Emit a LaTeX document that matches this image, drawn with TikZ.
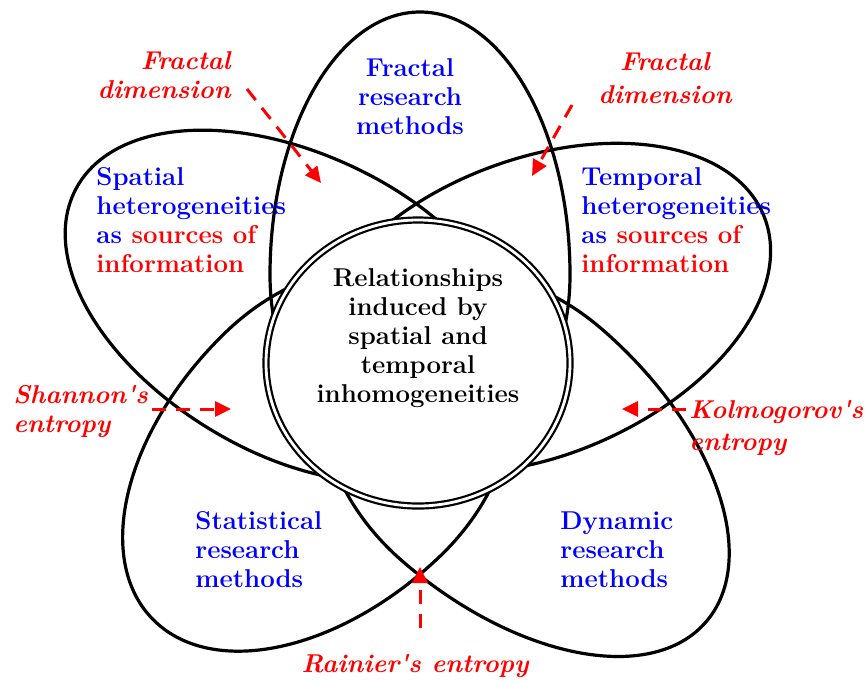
\documentclass[tikz,border=0pt]{standalone}
\usepackage{amsmath}
\usetikzlibrary{arrows.meta,shapes.geometric}
\tikzset{
  petal/.style={line width=1.6pt,line join=round},
  hub/.style={ellipse,draw,double,double distance=1.4pt,line width=1.1pt,fill=white,
    minimum width=152pt,minimum height=143pt,inner sep=0pt},
  topic/.style={text=blue,inner sep=0pt,font=\fontsize{12.9}{14.5}\selectfont\bfseries},
  core/.style={text=black,align=center,inner sep=0pt,font=\fontsize{12.9}{14.5}\selectfont\bfseries},
  measure/.style={text=red,inner sep=0pt,font=\fontsize{12.9}{14.5}\selectfont\bfseries\itshape},
  pointer/.style={red,line width=1.5pt,dash pattern=on 7pt off 5pt,-{Triangle[length=8pt,width=7.5pt]}}
}

\begin{document}
\begin{tikzpicture}[x=0.5pt,y=-0.5pt]
    \useasboundingbox (0,0) rectangle (865,682);

    % — Petals: outer half ellipse + shorter inner half (hidden by the hub)
    \draw[petal] (270,275) arc[start angle=180,end angle=360,x radius=150,y radius=263]
                           arc[start angle=0,end angle=180,x radius=150,y radius=195] -- cycle;
    \begin{scope}[shift={(302,309)},rotate=-28]
      \draw[petal] (0,-150) arc[start angle=270,end angle=90,x radius=256,y radius=150]
                            arc[start angle=90,end angle=-90,x radius=240,y radius=150] -- cycle;
    \end{scope}
    \begin{scope}[shift={(534,309)},rotate=22]
      \draw[petal] (0,-148) arc[start angle=-90,end angle=90,x radius=248,y radius=148]
                            arc[start angle=90,end angle=270,x radius=240,y radius=148] -- cycle;
    \end{scope}
    \begin{scope}[shift={(333.5,443.6)},rotate=224]
      \draw[petal] (0,-155) arc[start angle=-90,end angle=90,x radius=252,y radius=155]
                            arc[start angle=90,end angle=270,x radius=200,y radius=155] -- cycle;
    \end{scope}
    \begin{scope}[shift={(502,445)},rotate=-41]
      \draw[petal] (0,-153) arc[start angle=-90,end angle=90,x radius=270,y radius=153]
                            arc[start angle=90,end angle=270,x radius=200,y radius=153] -- cycle;
    \end{scope}

    % — Central hub
    \node[hub] (hub) at (418,363) {};
    \node[core] (relations) at (418,338) {Relationships\\induced by\\spatial and\\temporal\\inhomogeneities};

    % — Petal titles
    \node[topic,align=center] (fractal) at (410,97) {Fractal\\research\\methods};
    \node[topic,align=left,anchor=west] (spatial) at (96,220)
      {Spatial\\heterogeneities\\as \textcolor{red}{sources of}\\\textcolor{red}{information}};
    \node[topic,align=left,anchor=west] (temporal) at (581,220)
      {Temporal\\heterogeneities\\as \textcolor{red}{sources of}\\\textcolor{red}{information}};
    \node[topic,align=left,anchor=west] (statistical) at (195,550) {Statistical\\research\\methods};
    \node[topic,align=left,anchor=west] (dynamic) at (560,550) {Dynamic\\research\\methods};

    % — Measures
    \node[measure,align=right,anchor=east] (fdleft) at (231,75) {Fractal\\dimension};
    \node[measure,align=center] (fdright) at (665,78) {Fractal\\[2pt]dimension};
    \node[measure,align=left,anchor=west] (shannon) at (13,412) {Shannon\textquotesingle s\\entropy};
    \node[measure,align=left,anchor=west] (kolmogorov) at (689,428) {Kolmogorov\textquotesingle s\\[1.5pt]entropy};
    \node[measure] (rainier) at (415,666) {Rainier\textquotesingle s entropy};

    % — Pointers
    \coordinate (fdltail) at (247,89);  \coordinate (fdlhead) at (321,183);
    \coordinate (fdrtail) at (572,105); \coordinate (fdrhead) at (532,176);
    \coordinate (shtail) at (152,409);  \coordinate (shhead) at (231,409);
    \coordinate (kotail) at (686,409);  \coordinate (kohead) at (622,409);
    \coordinate (ratail) at (420,628);  \coordinate (rahead) at (420,567);
    \draw[pointer] (fdltail) -- (fdlhead);
    \draw[pointer] (fdrtail) -- (fdrhead);
    \draw[pointer] (shtail) -- (shhead);
    \draw[pointer] (kotail) -- (kohead);
    \draw[pointer] (ratail) -- (rahead);
\end{tikzpicture}
\end{document}
